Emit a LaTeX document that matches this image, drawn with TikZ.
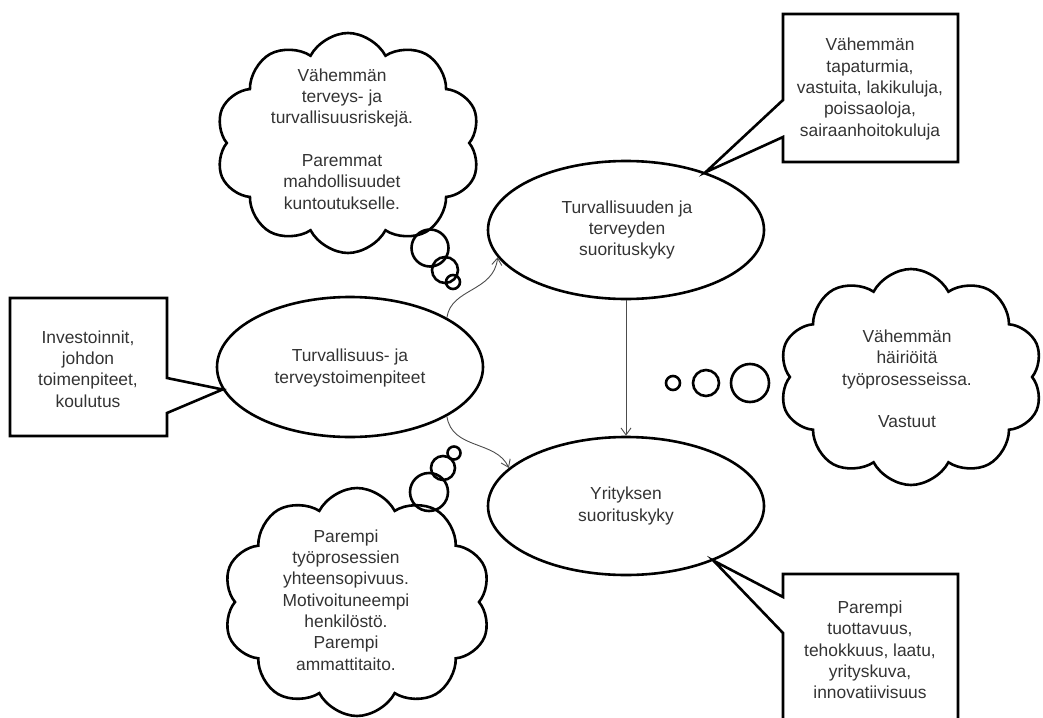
\documentclass[tikz,border=0pt]{standalone}
\usepackage{fontspec}
\setmainfont{Liberation Sans}
\usetikzlibrary{shapes.geometric,shapes.symbols,arrows.meta}
\begin{document}
\begin{tikzpicture}[x=1pt,y=-1pt,
  txt/.style={align=center,font=\fontsize{17.4}{21.3}\selectfont,text=black!80,inner sep=0pt},
  oval/.style={ellipse,draw,line width=2.6pt,minimum width=276pt,minimum height=138pt,inner sep=0pt},
  callout/.style={draw,line width=2.6pt,line join=miter},
  thought/.style={cloud,draw,line width=2.6pt,cloud puffs=10,cloud puff arc=125,inner sep=0pt},
  bubble/.style={circle,draw,line width=2.6pt,inner sep=0pt},
  link/.style={draw=black!70,line width=0.9pt,-{Straight Barb[length=7pt,width=10pt]}}]
\useasboundingbox (0,0) rectangle (1043,717);

% ellipses
\node[oval,minimum width=266pt,minimum height=140pt] (e1) at (350,367) {};
\node[txt] (t1) at (350,368) {Turvallisuus- ja\\terveystoimenpiteet};
\node[oval] (e2) at (626,230) {};
\node[txt] (t2) at (627,230) {Turvallisuuden ja\\terveyden\\suorituskyky};
\node[oval] (e3) at (626,506) {};
\node[txt] (t3) at (626,506) {Yrityksen\\suorituskyky};

% connectors
\draw[link] (e2.south) -- (e3.north);
\draw[link] (e1.27) .. controls (451,288) and (494,292) .. (e2.192);
\draw[link] (e1.-27) .. controls (452,450) and (496,440) .. (e3.162);

% callout boxes
\draw[callout] (10,298) -- (167,298) -- (167,378) -- (e1.190) -- (167,413) -- (167,436) -- (10,436) -- cycle;
\node[txt] (bl) at (88,369) {Investoinnit,\\johdon\\toimenpiteet,\\koulutus};

\draw[callout] (783,14) -- (958,14) -- (958,162) -- (783,162) -- (783,137) -- (e2.36) -- (783,100) -- cycle;
\node[txt] (btr) at (870,89) {Vähemmän\\tapaturmia,\\vastuita, lakikuluja,\\poissaoloja,\\sairaanhoitokuluja};

\draw[callout] (783,574) -- (958,574) -- (958,735) -- (783,735) -- (783,633) -- (e3.-32) -- (783,597) -- cycle;
\node[txt] (bbr) at (870,650) {Parempi\\tuottavuus,\\tehokkuus, laatu,\\yrityskuva,\\innovatiivisuus};

% thought clouds
\node[thought,minimum width=265pt,minimum height=220pt] (c1) at (348,143) {};
\node[txt] (ct1) at (342,139) {Vähemmän\\terveys- ja\\turvallisuusriskejä.\\[21.3pt]Paremmat\\mahdollisuudet\\kuntoutukselle.};
\node[bubble,minimum size=37pt] (c1a) at (430,248) {};
\node[bubble,minimum size=26pt] (c1b) at (445,270) {};
\node[bubble,minimum size=14pt] (c1c) at (453,282) {};

\node[thought,minimum width=264pt,minimum height=216pt] (c2) at (911,377) {};
\node[txt] (ct2) at (907,379) {Vähemmän\\häiriöitä\\työprosesseissa.\\[21.3pt]Vastuut};
\node[bubble,minimum size=38pt] (c2a) at (750,383) {};
\node[bubble,minimum size=26pt] (c2b) at (706,383) {};
\node[bubble,minimum size=14pt] (c2c) at (673,383) {};

\node[thought,minimum width=268pt,minimum height=228pt] (c3) at (357,602) {};
\node[txt] (ct3) at (346,600) {Parempi\\työprosessien\\yhteensopivuus.\\Motivoituneempi\\henkilöstö.\\Parempi\\ammattitaito.};
\node[bubble,minimum size=38pt] (c3a) at (429,492) {};
\node[bubble,minimum size=24pt] (c3b) at (443,468) {};
\node[bubble,minimum size=13pt] (c3c) at (454,453) {};
\end{tikzpicture}
\end{document}
